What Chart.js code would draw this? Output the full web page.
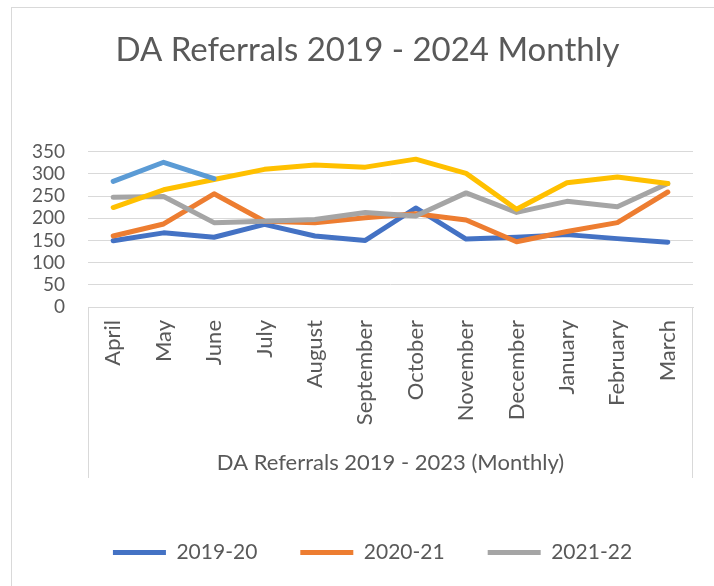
<!DOCTYPE html>
<html>
<head>
<meta charset="utf-8">
<title>DA Referrals 2019 - 2024 Monthly</title>
<script src="https://cdn.jsdelivr.net/npm/chart.js@4.4.1/dist/chart.umd.min.js"></script>
<style>
  body { margin: 0; background: #fff; }
  #wrap { position: relative; width: 714px; height: 586px; overflow: hidden; }
  #frame { position: absolute; left: 11px; top: 7px; width: 800px; height: 700px; border: 1px solid #d9d9d9; }
  #chart_linhas { position: absolute; left: 0; top: 0; }
</style>
</head>
<body>
<div id="wrap">
  <div id="frame"></div>
  <canvas id="chart_linhas" width="714" height="586"></canvas>
</div>
<script>
const meses = ['April', 'May', 'June', 'July', 'August', 'September', 'October', 'November', 'December', 'January', 'February', 'March'];
const anos = ['2019-20', '2020-21', '2021-22', '2022-23', '2023-24'];
const ref2019 = [149, 167, 157, 186, 160, 150, 223, 153, 157, 163, 154, 146];
const ref2020 = [160, 187, 255, 193, 190, 201, 210, 196, 147, 170, 190, 259];
const ref2021 = [247, 249, 190, 193, 197, 213, 205, 257, 213, 238, 226, 278];
const ref2022 = [224, 264, 287, 310, 320, 315, 333, 301, 220, 280, 293, 278];
const ref2023 = [283, 326, 289];
const cores = ['#4472C4', '#ED7D31', '#A5A5A5', '#FFC000', '#5B9BD5'];

const cinza = '#595959';
const fonte = 'Lato';

// Excel-ish tweaks: centre offsets and the open box under the x axis
const ajuste = {
  id: 'ajuste',
  afterLayout(chart) {
    chart.titleBlock.left += 15; chart.titleBlock.right += 15;
    chart.legend.left += 20; chart.legend.right += 20;
  },
  afterDraw(chart) {
    const a = chart.chartArea, ctx = chart.ctx;
    ctx.save();
    ctx.strokeStyle = '#d9d9d9';
    ctx.lineWidth = 1;
    ctx.beginPath();
    ctx.moveTo(a.left + 0.5, a.bottom); ctx.lineTo(a.left + 0.5, a.bottom + 171);
    ctx.moveTo(a.right - 0.5, a.bottom); ctx.lineTo(a.right - 0.5, a.bottom + 171);
    ctx.stroke();
    ctx.restore();
  }
};

const series = [ref2019, ref2020, ref2021, ref2022, ref2023];

const linhas = document.getElementById('chart_linhas');

new Chart(linhas, {
    type: 'line',
    data: {
      labels: meses,
      datasets: series.map((d, i) => ({
        label: anos[i],
        data: d,
        borderColor: cores[i],
        backgroundColor: cores[i],
        borderWidth: 5,
        borderCapStyle: 'round',
        borderJoinStyle: 'round',
        pointRadius: 0,
        tension: 0,
        order: 10 - i
      }))
    },
    options: {
      responsive: false,
      animation: false,
      layout: { padding: { left: 12, right: 21, top: 0, bottom: 13 } },
      plugins: {
        title: {
          display: true,
          text: 'DA Referrals 2019 - 2024 Monthly',
          color: cinza,
          font: { family: fonte, size: 33, weight: 'normal' },
          padding: { top: 31, bottom: 81 }
        },
        legend: {
          position: 'bottom',
          labels: {
            color: cinza,
            font: { family: fonte, size: 21 },
            usePointStyle: true,
            pointStyle: 'line',
            pointStyleWidth: 53,
            padding: 43,
            filter: (item) => item.datasetIndex < 3,
            sort: (a, b) => a.datasetIndex - b.datasetIndex
          }
        },
        tooltip: { enabled: false }
      },
      scales: {
        x: {
          offset: true,
          grid: { display: false, drawTicks: false },
          border: { display: true, color: '#d9d9d9', width: 1 },
          ticks: {
            color: cinza,
            font: { family: fonte, size: 22 },
            minRotation: 90,
            maxRotation: 90,
            autoSkip: false,
            padding: 13
          },
          title: {
            display: true,
            text: 'DA Referrals 2019 - 2023 (Monthly)',
            color: cinza,
            font: { family: fonte, size: 22 },
            padding: { top: 0, bottom: 23 }
          },
          afterFit(scale) { scale.height = 192; }
        },
        y: {
          min: 0,
          max: 350,
          grid: { color: '#d9d9d9', lineWidth: 1, drawTicks: false },
          border: { display: false },
          ticks: {
            stepSize: 50,
            autoSkip: false,
            color: cinza,
            font: { family: fonte, size: 19 },
            padding: 23
          },
          afterFit(scale) { scale.width = 76; }
        }
      }
    },
    plugins: [ajuste]
  });
</script>
</body>
</html>
